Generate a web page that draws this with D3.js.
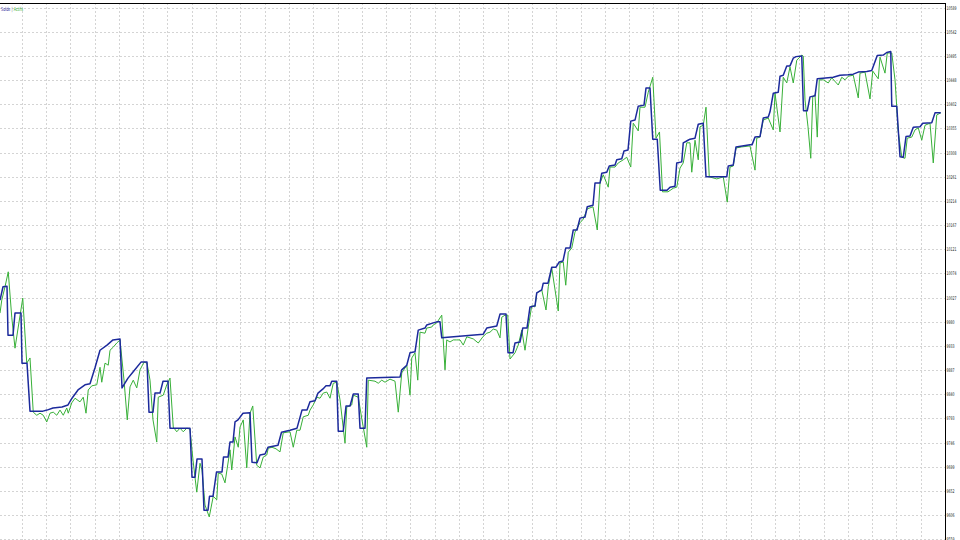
<!DOCTYPE html>
<html><head><meta charset="utf-8">
<script src="https://cdn.jsdelivr.net/npm/d3@7/dist/d3.min.js"></script>
<style>html,body{margin:0;padding:0;background:#fff}svg{display:block}</style>
</head><body>
<svg id="chart" width="960" height="540"></svg>
<script>
// ---- data ----
const yTickLabels = [10589,10542,10495,10448,10402,10355,10308,10261,10214,10167,10121,10074,10027,9980,9933,9887,9840,9793,9746,9699,9652,9606,9559];
const legendLabels = ["Solde","Actifs"];
// [trade #, balance]
const balance = [[0,10022],[1.2,10048],[2.8,10049],[3.2,9954],[5.2,9954],[6,9997],[8.4,9997],[8.8,9900],[10.8,9900],[12,9807],[17.2,9807],[18.8,9809],[21.2,9813],[24.8,9815],[27.2,9819],[28.8,9832],[31.2,9848],[34,9858],[36,9860],[38,9891],[40,9925],[42.8,9935],[45.2,9945],[48,9947],[48.8,9852],[51.2,9871],[53.2,9883],[56.4,9902],[58.8,9902],[59.6,9805],[61.2,9805],[62,9842],[64,9842],[65.2,9865],[67.2,9865],[68,9774],[76,9774],[76.8,9679],[78,9679],[78.8,9714],[80.8,9714],[81.6,9615],[83.2,9615],[83.8,9642],[85.2,9642],[86.6,9689],[88.8,9689],[89.4,9718],[91.2,9718],[92,9747],[93.2,9747],[94,9786],[95.2,9790],[97.2,9803],[100,9804],[100.8,9708],[102.8,9707],[104,9722],[106,9724],[107.2,9737],[111.2,9741],[112.6,9766],[116,9770],[118.8,9774],[120.8,9809],[122.8,9809],[124,9825],[126,9827],[127.2,9842],[129.2,9850],[130.4,9856],[132,9856],[132.7,9865],[134.7,9865],[135.3,9768],[137.3,9768],[138.4,9817],[140,9817],[141.3,9840],[143.3,9840],[144,9774],[146,9774],[146.7,9871],[160,9873],[160.7,9887],[162.7,9896],[164,9920],[166,9922],[167.3,9964],[170,9968],[170.7,9974],[173.3,9978],[174.7,9980],[176,9980],[176.7,9949],[193.3,9956],[194.7,9968],[198.7,9972],[200,9995],[202.4,9995],[203.2,9920],[205.2,9920],[206,9939],[208,9941],[209.1,9968],[210.8,9968],[212,10009],[214,10011],[214.7,10036],[216.7,10042],[217.3,10055],[219.2,10055],[220.7,10086],[222.4,10086],[223.7,10096],[225.2,10098],[226.3,10123],[228,10123],[229.3,10158],[230.8,10158],[232,10181],[234,10183],[234.9,10203],[237.2,10206],[238,10249],[240,10249],[240.7,10268],[242.7,10270],[243.7,10282],[246,10284],[246.7,10294],[248.7,10296],[249.6,10311],[251.2,10313],[252.3,10369],[254,10371],[255.3,10398],[257.6,10400],[258.4,10433],[260,10433],[261.1,10334],[262.9,10334],[264.1,10235],[266.8,10235],[268,10241],[270,10243],[270.7,10288],[272.7,10290],[273.3,10327],[275.2,10332],[276,10334],[278,10336],[279.3,10363],[281.3,10365],[282.4,10261],[290.7,10261],[291.3,10282],[293.3,10284],[294.4,10319],[300,10323],[300.8,10323],[302,10338],[304,10339],[305.3,10375],[307.3,10377],[308,10387],[309.3,10423],[311.3,10425],[312,10456],[313.3,10458],[314.7,10476],[316,10476],[317.3,10491],[318.4,10494],[320.7,10495],[321.4,10389],[322.9,10389],[324,10416],[326,10418],[326.9,10451],[329.2,10452],[333.3,10454],[336,10458],[339.2,10459],[341.3,10460],[343.3,10464],[346.7,10465],[348.7,10467],[350.9,10496],[353.3,10497],[354.7,10502],[356.3,10504],[356.7,10398],[358.7,10398],[360,10300],[361.3,10299],[362.4,10339],[364,10340],[365.3,10357],[368,10358],[369.1,10365],[372.7,10366],[374,10385],[376.3,10385]];
// [trade #, equity]
const equity = [[0,9997],[0.7,10022],[2,10048],[3.3,10077],[4.7,9989],[6,9929],[7.3,9970],[9.1,10026],[10.7,9900],[12,9910],[13.3,9805],[14.7,9799],[16,9803],[17.3,9799],[18.7,9786],[20,9803],[21.3,9805],[22.7,9799],[24,9809],[25.3,9799],[26.7,9813],[27.3,9803],[28.7,9823],[30,9832],[32,9825],[33.3,9834],[34.4,9803],[35.3,9848],[36.7,9856],[38.7,9858],[40,9892],[40.7,9863],[42,9900],[43.3,9896],[44,9925],[45.3,9931],[46.7,9939],[48,9945],[49.6,9867],[50.9,9790],[52,9854],[53.3,9867],[54.7,9852],[56,9887],[57.6,9902],[58.8,9900],[60,9867],[61.2,9790],[62.7,9747],[63.3,9834],[65.3,9838],[66.7,9858],[68,9871],[69.3,9776],[70.7,9767],[72,9774],[73.3,9767],[74.7,9774],[76,9772],[77.2,9712],[78.7,9650],[80,9706],[80.8,9693],[82,9625],[83.7,9602],[85.3,9642],[86.7,9635],[87.3,9687],[88.7,9685],[90,9668],[92,9732],[92.7,9693],[94,9757],[95.3,9737],[96,9776],[97.3,9790],[98.7,9697],[100,9803],[101.1,9817],[102.7,9702],[104,9697],[105.3,9718],[106.7,9722],[107.3,9735],[108.8,9737],[110.4,9734],[112,9728],[113.3,9765],[116,9767],[117.3,9737],[118.7,9770],[120,9770],[121.3,9796],[123.3,9799],[124,9809],[125.3,9819],[126.7,9834],[128,9832],[129.3,9842],[130.7,9844],[132,9832],[133.3,9861],[134.7,9863],[136,9829],[138,9745],[138.7,9815],[140.7,9819],[141.3,9838],[143.3,9834],[144.8,9790],[146.7,9737],[147.3,9867],[150,9865],[151.3,9861],[152.7,9867],[154,9863],[156,9869],[158,9865],[159.3,9805],[160.7,9881],[162.7,9896],[164,9838],[164.7,9910],[166,9920],[167.1,9867],[168,9960],[170,9958],[170.7,9968],[172.7,9970],[173.3,9974],[174.7,9978],[176.7,9993],[178,9887],[178.7,9945],[180,9941],[181.3,9945],[182.7,9945],[184,9945],[185.3,9935],[186.7,9951],[189.3,9947],[191.3,9939],[193.3,9952],[194.7,9958],[196,9960],[197.3,9966],[198.7,9964],[200,9949],[200.7,9989],[202,9993],[203.1,9993],[204,9908],[206,9920],[207.3,9935],[208.7,9964],[210,9925],[211.3,9970],[212.7,10011],[214,10009],[214.7,10036],[216.7,10042],[218.4,10003],[219.3,10048],[220.7,10084],[223.3,10001],[224,10094],[225.3,10096],[226.3,10051],[227.3,10115],[228.7,10123],[230,10154],[232,10172],[233.3,10179],[234.9,10199],[237.2,10203],[238.9,10158],[240,10249],[241.3,10265],[243.3,10241],[244,10280],[246,10280],[247.3,10288],[249.3,10294],[250.7,10299],[252.3,10280],[253.3,10365],[255.3,10350],[256,10396],[258,10396],[259.3,10425],[261.1,10454],[262.4,10336],[263.8,10348],[265,10232],[267.2,10232],[269.3,10239],[270.7,10241],[272,10278],[273.3,10288],[274.7,10327],[276,10327],[276.7,10270],[278,10332],[279.3,10294],[280,10358],[281.3,10361],[282.4,10396],[283.7,10261],[286.7,10257],[288,10259],[289.3,10261],[290.9,10212],[292,10280],[293.3,10282],[294.4,10317],[296.7,10319],[300,10321],[302,10274],[302.7,10336],[304,10338],[305.3,10371],[307.3,10375],[309.3,10352],[310,10423],[312,10348],[313.3,10454],[314.7,10443],[316,10474],[317.3,10443],[318.7,10487],[320.7,10497],[321.3,10495],[322,10410],[323.2,10358],[324.3,10297],[325.1,10416],[326,10420],[326.9,10338],[327.7,10449],[329.3,10449],[331.3,10443],[332.7,10453],[335.3,10439],[336.7,10454],[338,10449],[339.3,10456],[341.3,10458],[343.3,10414],[344,10462],[346,10464],[348,10412],[349.1,10466],[351.3,10451],[352,10493],[354,10462],[354.9,10501],[356.7,10501],[358,10449],[358.7,10396],[359.2,10352],[360.7,10299],[362,10297],[362.9,10336],[364.7,10338],[366,10352],[367.3,10356],[368.7,10332],[370,10361],[372,10365],[373.3,10288],[374.7,10381],[376.3,10385]];

// ---- layout ----
const plotLeft = 0, plotRight = 945, plotTop = 3, plotBottom = 540;
const blueCol = "#1c2a9c", greenCol = "#38b038";
const svg = d3.select("#chart");

const x = d3.scaleLinear().domain([0, 378]).range([plotLeft, plotRight]);
const y = d3.scaleLinear().domain([9559, 10589]).range([539.1, 7.6]);

// grid
const grid = svg.append("g").attr("stroke", "#d4d4d4").attr("stroke-width", 1).attr("stroke-dasharray", "2,2").attr("shape-rendering", "crispEdges");
grid.selectAll("line.h").data(yTickLabels).join("line").attr("class","h")
  .attr("x1", plotLeft).attr("x2", plotRight)
  .attr("y1", d => Math.round(y(d)) + 0.5).attr("y2", d => Math.round(y(d)) + 0.5);
const vStep = 24.3;
const vLines = d3.range(1, 39).map(k => plotRight - k * vStep);
grid.selectAll("line.v").data(vLines).join("line").attr("class","v")
  .attr("x1", d => Math.round(d) + 0.5).attr("x2", d => Math.round(d) + 0.5)
  .attr("y1", plotTop).attr("y2", plotBottom);

// lines
const line = d3.line().x(d => x(d[0])).y(d => y(d[1]));
svg.append("path").datum(equity).attr("d", line).attr("fill", "none")
  .attr("stroke", greenCol).attr("stroke-width", 1).attr("stroke-linejoin", "round");
svg.append("path").datum(balance).attr("d", line).attr("fill", "none")
  .attr("stroke", blueCol).attr("stroke-width", 1.5).attr("stroke-linejoin", "round");

// frame
svg.append("line").attr("x1", plotLeft).attr("x2", plotRight + 0.5).attr("y1", plotTop + 0.5).attr("y2", plotTop + 0.5)
  .attr("stroke", "#000").attr("stroke-width", 1).attr("shape-rendering", "crispEdges");
svg.append("line").attr("x1", plotRight + 0.5).attr("x2", plotRight + 0.5).attr("y1", plotTop).attr("y2", plotBottom)
  .attr("stroke", "#000").attr("stroke-width", 1).attr("shape-rendering", "crispEdges");

// right axis labels
const axis = d3.axisRight(y).tickValues(yTickLabels).tickSize(0).tickPadding(1.5).tickFormat(d3.format("d"));
const ag = svg.append("g").attr("transform", `translate(${plotRight},0)`).call(axis);
ag.select(".domain").remove();
ag.selectAll("text")
  .attr("font-family", "'DejaVu Sans Condensed','Liberation Sans Narrow','Liberation Sans',sans-serif")
  .attr("font-size", 5).attr("fill", "#222")
  .attr("textLength", d => String(d).length * 2)
  .attr("lengthAdjust", "spacingAndGlyphs");

// legend (one text, coloured parts)
const lt = svg.append("text").attr("x", 1).attr("y", 11)
  .attr("font-family", "'DejaVu Sans Condensed','Liberation Sans',sans-serif").attr("font-size", 5.5)
  .attr("textLength", 22).attr("lengthAdjust", "spacingAndGlyphs");
lt.append("tspan").attr("fill", blueCol).text(legendLabels[0]);
lt.append("tspan").attr("fill", "#667").text(" | ");
lt.append("tspan").attr("fill", greenCol).text(legendLabels[1]);
</script>
</body></html>
